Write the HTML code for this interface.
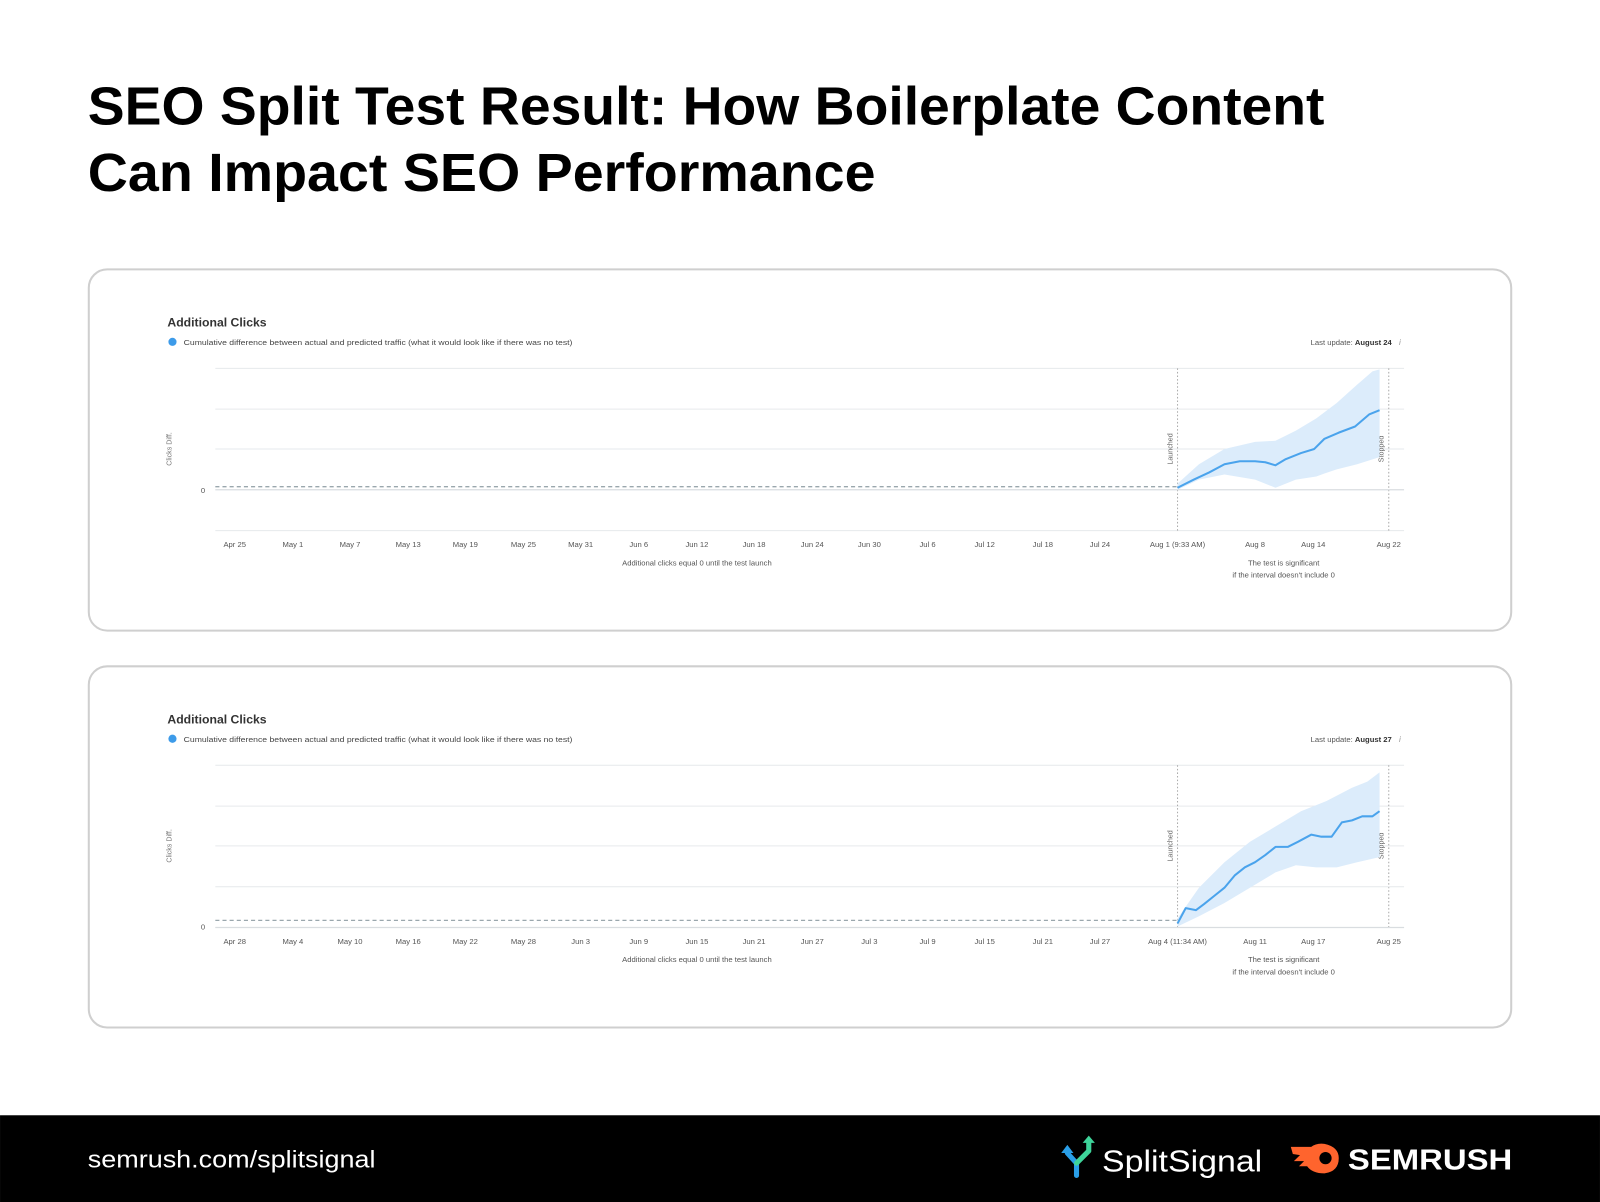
<!DOCTYPE html>
<html><head><meta charset="utf-8">
<style>
html,body{margin:0;padding:0;background:#fff;width:1600px;height:1202px;overflow:hidden}
svg{display:block}
text{font-family:"Liberation Sans",sans-serif}
</style></head>
<body>
<svg width="1600" height="1202" viewBox="0 0 1568 1178" xmlns="http://www.w3.org/2000/svg">
<rect width="1568" height="1178" fill="#fff"/>
<text x="86" y="122" font-size="53" font-weight="bold" fill="#000" textLength="1212" lengthAdjust="spacingAndGlyphs">SEO Split Test Result: How Boilerplate Content</text>
<text x="86" y="187" font-size="53" font-weight="bold" fill="#000" textLength="772" lengthAdjust="spacingAndGlyphs">Can Impact SEO Performance</text>

<defs>
<g id="frame">
<rect x="87" y="264" width="1394" height="354" rx="18" fill="#fff" stroke="#cfcfcf" stroke-width="2"/>
<text x="164" y="320" font-size="12" font-weight="bold" fill="#333">Additional Clicks</text>
<circle cx="169" cy="335" r="4" fill="#3d9be9"/>
<text x="180" y="338" font-size="7.5" fill="#444" textLength="381" lengthAdjust="spacingAndGlyphs">Cumulative difference between actual and predicted traffic (what it would look like if there was no test)</text>
<g stroke="#e6e9ec" stroke-width="1">
<line x1="211" y1="361" x2="1376" y2="361"/><line x1="211" y1="401" x2="1376" y2="401"/>
<line x1="211" y1="440" x2="1376" y2="440"/><line x1="211" y1="520" x2="1376" y2="520"/>
</g>
<text x="168" y="440" font-size="7" fill="#777" transform="rotate(-90 168 440)" text-anchor="middle">Clicks Diff.</text>
<line x1="1154" y1="361" x2="1154" y2="520" stroke="#aaa" stroke-dasharray="1.5,2"/>
<line x1="1361" y1="361" x2="1361" y2="520" stroke="#aaa" stroke-dasharray="1.5,2"/>
<text x="1149" y="440" font-size="7" fill="#666" transform="rotate(-90 1149 440)" text-anchor="middle">Launched</text>
<text x="1356" y="440" font-size="7" fill="#666" transform="rotate(-90 1356 440)" text-anchor="middle">Stopped</text>
<text x="683" y="554" font-size="7.5" fill="#555" text-anchor="middle">Additional clicks equal 0 until the test launch</text>
<text x="1258" y="554" font-size="7.5" fill="#555" text-anchor="middle">The test is significant</text>
<text x="1258" y="566" font-size="7.5" fill="#555" text-anchor="middle">if the interval doesn't include 0</text>
</g>
</defs>

<!-- chart 1 -->
<use href="#frame"/>
<line x1="211" y1="480" x2="1376" y2="480" stroke="#d9dde0" stroke-width="1.2"/>
<text x="201" y="483" font-size="7.5" fill="#555" text-anchor="end">0</text>
<text x="1364" y="338" font-size="7.5" fill="#555" text-anchor="end">Last update: <tspan font-weight="bold" fill="#333">August 24</tspan></text>
<text x="1371" y="338" font-size="8" fill="#999" font-style="italic">i</text>
<line x1="211" y1="477" x2="1154" y2="477" stroke="#9aa7ad" stroke-width="1.3" stroke-dasharray="4,3"/>
<path d="M1154,474 L1175,455 L1200,440 L1230,433 L1250,432 L1270,422 L1290,410 L1310,395 L1330,377 L1345,364 L1352,362 L1352,448 L1330,455 L1310,460 L1298,464 L1290,467 L1270,470 L1250,478 L1230,470 L1200,465 L1175,470 L1154,480 Z" fill="#dcecfb"/>
<polyline fill="none" stroke="#4aa3ec" stroke-width="2" stroke-linejoin="round" points="1154,478 1170,470 1185,463 1200,455 1215,452 1230,452 1240,453 1250,456 1260,450 1275,444 1288,440 1298,430 1312,424 1328,418 1342,406 1352,402"/>
<g font-size="7.5" fill="#555" text-anchor="middle">
<text x="230" y="536">Apr 25</text><text x="287" y="536">May 1</text><text x="343" y="536">May 7</text><text x="400" y="536">May 13</text><text x="456" y="536">May 19</text><text x="513" y="536">May 25</text><text x="569" y="536">May 31</text><text x="626" y="536">Jun 6</text><text x="683" y="536">Jun 12</text><text x="739" y="536">Jun 18</text><text x="796" y="536">Jun 24</text><text x="852" y="536">Jun 30</text><text x="909" y="536">Jul 6</text><text x="965" y="536">Jul 12</text><text x="1022" y="536">Jul 18</text><text x="1078" y="536">Jul 24</text><text x="1154" y="536">Aug 1 (9:33 AM)</text><text x="1230" y="536">Aug 8</text><text x="1287" y="536">Aug 14</text><text x="1361" y="536">Aug 22</text>
</g>

<!-- chart 2 -->
<use href="#frame" transform="translate(0,389)"/>
<line x1="211" y1="869" x2="1376" y2="869" stroke="#e6e9ec"/>
<line x1="211" y1="909" x2="1376" y2="909" stroke="#d9dde0" stroke-width="1.2"/>
<text x="201" y="911" font-size="7.5" fill="#555" text-anchor="end">0</text>
<text x="1364" y="727" font-size="7.5" fill="#555" text-anchor="end">Last update: <tspan font-weight="bold" fill="#333">August 27</tspan></text>
<text x="1371" y="727" font-size="8" fill="#999" font-style="italic">i</text>
<line x1="211" y1="902" x2="1154" y2="902" stroke="#9aa7ad" stroke-width="1.3" stroke-dasharray="4,3"/>
<path d="M1154,900 L1175,870 L1200,845 L1225,825 L1250,810 L1275,795 L1300,785 L1325,772 L1340,766 L1352,757 L1352,840 L1330,845 L1310,850 L1290,850 L1270,848 L1250,855 L1225,870 L1200,885 L1175,898 L1154,908 Z" fill="#dcecfb"/>
<polyline fill="none" stroke="#4aa3ec" stroke-width="2" stroke-linejoin="round" points="1154,905 1162,890 1172,892 1180,886 1190,878 1200,870 1210,858 1220,850 1230,845 1240,838 1250,830 1262,830 1272,825 1285,818 1295,820 1305,820 1315,806 1325,804 1335,800 1345,800 1352,795"/>
<g font-size="7.5" fill="#555" text-anchor="middle">
<text x="230" y="925">Apr 28</text><text x="287" y="925">May 4</text><text x="343" y="925">May 10</text><text x="400" y="925">May 16</text><text x="456" y="925">May 22</text><text x="513" y="925">May 28</text><text x="569" y="925">Jun 3</text><text x="626" y="925">Jun 9</text><text x="683" y="925">Jun 15</text><text x="739" y="925">Jun 21</text><text x="796" y="925">Jun 27</text><text x="852" y="925">Jul 3</text><text x="909" y="925">Jul 9</text><text x="965" y="925">Jul 15</text><text x="1022" y="925">Jul 21</text><text x="1078" y="925">Jul 27</text><text x="1154" y="925">Aug 4 (11:34 AM)</text><text x="1230" y="925">Aug 11</text><text x="1287" y="925">Aug 17</text><text x="1361" y="925">Aug 25</text>
</g>

<!-- footer -->
<rect x="0" y="1093" width="1568" height="85" fill="#000"/>
<text x="86" y="1144" font-size="24" fill="#fff" textLength="282" lengthAdjust="spacingAndGlyphs">semrush.com/splitsignal</text>
<g stroke-width="5" fill="none" stroke-linecap="round" stroke-linejoin="round">
<path d="M1055,1152 L1055,1140 L1046,1130" stroke="#2a9fe8"/>
<path d="M1055,1140 L1067,1128 L1067,1118" stroke="#3ed49a"/>
</g>
<path d="M1040,1130 L1046,1122 L1052,1130 Z" fill="#2a9fe8"/>
<path d="M1061,1120 L1067,1113 L1073,1120 Z" fill="#3ed49a"/>
<text x="1080" y="1148" font-size="30" fill="#fff" textLength="157" lengthAdjust="spacingAndGlyphs">SplitSignal</text>
<path d="M1265,1124 L1285,1124 Q1290,1120 1298,1121 Q1312,1124 1312,1135 Q1312,1148 1298,1150 Q1286,1150 1281,1143 L1273,1143 L1278,1138 L1268,1138 L1274,1132 L1267,1131 Z" fill="#ff642d"/>
<circle cx="1299" cy="1135" r="6" fill="#000"/>
<text x="1321" y="1146" font-size="28" font-weight="bold" fill="#fff" textLength="161" lengthAdjust="spacingAndGlyphs">SEMRUSH</text>
</svg>
</body></html>
